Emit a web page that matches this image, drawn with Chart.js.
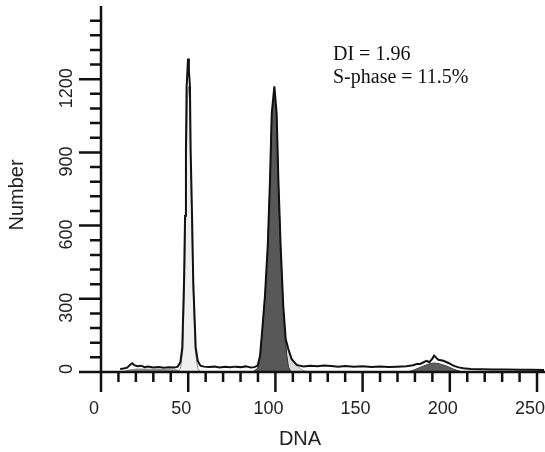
<!DOCTYPE html>
<html>
<head>
<meta charset="utf-8">
<script src="https://cdn.jsdelivr.net/npm/chart.js@4/dist/chart.umd.min.js"></script>
<style>
	body { margin: 0; background: #ffffff; }
	#wrap { width: 545px; height: 452px; position: relative; }
</style>
</head>
<body>
<div id="wrap"><canvas id="myChart"></canvas></div>
<script>
// histogramme mesure (contour noir)
var histX = [11, 13, 15, 17, 18, 19, 21, 23, 25, 27, 30, 33, 36, 39, 42, 44, 45.5, 46.6, 47.6, 48.2, 48.7, 49.1, 49.9, 50.4, 51, 51.4, 52.2, 52.9, 54.3, 55.5, 57, 59, 62, 65, 68, 71, 74, 77, 80, 83, 86, 88, 89.8, 91.2, 92.5, 94, 95.6, 96.9, 97.9, 99.4, 100.7, 101.7, 103, 104.5, 105.9, 107.4, 109.3, 112.2, 116, 120, 124, 128, 132, 136, 140, 145, 150, 155, 160, 165, 170, 175, 179, 181, 183, 185, 186.7, 188.3, 190, 191, 192, 193.4, 196.3, 199.2, 202, 205, 207.8, 212, 218, 225, 232, 240, 247, 254];
var histN = [12, 14, 18, 32, 36, 28, 24, 26, 20, 22, 18, 20, 17, 19, 18, 22, 40, 100, 370, 640, 910, 1170, 1285, 1235, 1170, 910, 640, 370, 100, 45, 26, 22, 20, 22, 18, 21, 19, 22, 20, 23, 18, 20, 26, 67, 176, 311, 516, 788, 1060, 1171, 1060, 788, 516, 271, 135, 94, 53, 29, 23, 26, 24, 27, 25, 22, 25, 22, 24, 21, 23, 20, 22, 24, 28, 33, 33, 40, 46, 40, 55, 67, 60, 50, 46, 37, 26, 19, 15, 12, 11, 10, 10, 9, 9, 8];

// pic G1 diploide (gris clair)
var dipG1X = [44, 45.6, 46.9, 47.9, 48.5, 49.0, 49.5, 50.2, 50.8, 51.3, 52.0, 52.7, 54.0, 55.5, 57];
var dipG1N = [0, 15, 90, 360, 630, 880, 1120, 1170, 1120, 880, 630, 360, 90, 15, 0];

// pic G2 diploide (gris clair)
var dipG2X = [95, 98, 101, 104, 106, 107.4, 109.3, 112.2, 115, 118];
var dipG2N = [0, 40, 80, 100, 112, 88, 48, 26, 10, 0];

// pic G1 aneuploide (gris fonce)
var aneG1X = [87, 89.8, 91.2, 92.5, 94, 95.6, 96.9, 97.9, 99.4, 100.7, 101.7, 103, 104.5, 105.5, 106.5, 107.5, 109];
var aneG1N = [0, 15, 60, 170, 305, 510, 780, 1050, 1140, 1050, 780, 510, 265, 150, 70, 20, 0];

// pic G2 aneuploide (gris fonce)
var aneG2X = [176, 180, 184, 188, 191, 194, 198, 202, 206, 208];
var aneG2N = [0, 10, 22, 33, 37, 34, 25, 12, 3, 0];

// debris
var debrisX = [12, 16, 20, 25, 30, 35, 40, 44, 46];
var debrisN = [0, 8, 12, 12, 11, 10, 9, 8, 0];

var xTickLabels = [0, 50, 100, 150, 200, 250];
var yTickLabels = [0, 300, 600, 900, 1200];
var xMinorStep = 10;
var yMinorStep = 60;
var yMinorMax = 1440;

var texteDI = 'DI = 1.96';
var texteS = 'S-phase = 11.5%';

function points(xs, ys)
{
	return xs.map(function(v, i) { return {x: v, y: ys[i]}; });
}

function serie(xs, ys, fond, bord, largeur, ordre, remplir)
{
	return {
		data: points(xs, ys),
		backgroundColor: fond,
		borderColor: bord,
		borderWidth: largeur,
		fill: remplir ? 'origin' : false,
		pointRadius: 0,
		tension: 0,
		order: ordre
	};
}

var axesPlugin = {
	id: 'axesPlugin',
	afterDatasetsDraw: function(chart)
	{
		var ctx = chart.ctx;
		var sx = chart.scales.x;
		var sy = chart.scales.y;
		var x0 = sx.getPixelForValue(0);
		var y0 = sy.getPixelForValue(0);

		ctx.save();
		ctx.strokeStyle = '#111111';
		ctx.lineWidth = 2.5;
		ctx.lineCap = 'butt';

		// axes
		ctx.beginPath();
		ctx.moveTo(x0, sy.getPixelForValue(sy.max));
		ctx.lineTo(x0, y0);
		ctx.moveTo(x0 - 1, y0);
		ctx.lineTo(chart.width, y0);
		ctx.stroke();

		// graduations y
		ctx.beginPath();
		for (var v = 0; v <= yMinorMax; v += yMinorStep) {
			var py = sy.getPixelForValue(v);
			var len = (v % 300 === 0) ? 22 : 11;
			ctx.moveTo(x0 - len, py);
			ctx.lineTo(x0, py);
		}
		// graduations x
		for (var u = 0; u <= 250; u += xMinorStep) {
			var px = sx.getPixelForValue(u);
			var lenx = (u % 50 === 0) ? 20 : 10;
			ctx.moveTo(px, y0);
			ctx.lineTo(px, y0 + lenx);
		}
		ctx.stroke();

		ctx.fillStyle = '#222222';
		ctx.font = '18px "Liberation Sans", Arial, sans-serif';
		ctx.textAlign = 'center';
		ctx.textBaseline = 'middle';

		xTickLabels.forEach(function(val) {
			ctx.fillText(String(val), sx.getPixelForValue(val) - 7, 409);
		});

		yTickLabels.forEach(function(val) {
			var py = sy.getPixelForValue(val) + (val === 0 ? -3 : 9);
			ctx.save();
			ctx.translate(67, py);
			ctx.rotate(-Math.PI / 2);
			ctx.fillText(String(val), 0, 0);
			ctx.restore();
		});

		// titres des axes
		ctx.font = '20px "Liberation Sans", Arial, sans-serif';
		ctx.fillText('DNA', 300, 439);
		ctx.save();
		ctx.translate(17, 195);
		ctx.rotate(-Math.PI / 2);
		ctx.fillText('Number', 0, 0);
		ctx.restore();

		// annotation
		ctx.fillStyle = '#111111';
		ctx.font = '20px "Liberation Serif", "Times New Roman", serif';
		ctx.textAlign = 'left';
		ctx.fillText(texteDI, 333, 55);
		ctx.fillText(texteS, 333, 78);

		ctx.restore();
	}
};

var ctx = document.getElementById('myChart').getContext('2d');

var chart = new Chart(ctx, {
	type: 'line',
	data: {
		datasets: [
			serie(histX, histN, 'rgba(0,0,0,0)', '#111111', 2, 0, false),
			serie(aneG1X, aneG1N, '#585858', '#333333', 1, 1, true),
			serie(aneG2X, aneG2N, '#5e5e5e', '#444444', 1, 1, true),
			serie(dipG1X, dipG1N, '#efefef', '#8a8a8a', 1, 2, true),
			serie(dipG2X, dipG2N, '#dadada', '#9a9a9a', 1, 2, true),
			serie(debrisX, debrisN, '#8c8c8c', '#8c8c8c', 1, 3, true)
		]
	},
	options: {
		responsive: true,
		maintainAspectRatio: false,
		animation: false,
		layout: {
			padding: {left: 101, right: 1, top: 6, bottom: 80}
		},
		scales: {
			x: {
				type: 'linear',
				display: false,
				min: 0,
				max: 254
			},
			y: {
				type: 'linear',
				display: false,
				min: 0,
				max: 1500
			}
		},
		plugins: {
			legend: { display: false },
			tooltip: { enabled: false }
		}
	},
	plugins: [axesPlugin]
});
</script>
</body>
</html>
